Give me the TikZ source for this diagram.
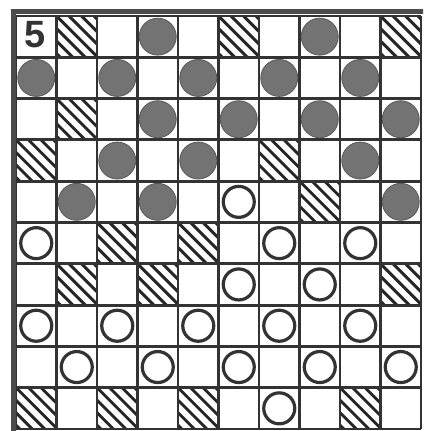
\documentclass[tikz,border=0pt]{standalone}
\usepackage{fontspec}
\setsansfont{Liberation Sans}
\begin{document}
\begin{tikzpicture}[
                x=1pt,y=1pt,
                boardGrid/.style={draw=black!80,line width=2.9pt},
                boardFrame/.style={draw=black!70,line width=5pt},
                hatchCell/.style={minimum width=40.5pt,minimum height=41.3pt,
                                  inner sep=0pt,path picture={
                    \foreach \k in {-4,...,4}
                        \draw[black!85,line width=2.9pt]
                            ([xshift=\k*12.5pt]path picture bounding box.north west)
                            -- ++(60,-60);}},
                blackMan/.style={circle,fill=black!55,draw=black!65,line width=0.8pt,
                                 minimum size=37pt,inner sep=0pt},
                whiteMan/.style={circle,fill=white,draw=black!80,line width=3.2pt,
                                 minimum size=31pt,inner sep=0pt}]
                \useasboundingbox[fill=white] (0,0) rectangle (423,431);
                \clip (0,0) rectangle (423,431);
                % square centres, column c from the left, row r from the top
                \foreach \c in {1,...,10}
                    \foreach \r in {1,...,10}
                        \coordinate (s\c-\r) at ({16+40.5*(\c-0.5)},{415-41.3*(\r-0.5)});
                % empty dark squares
                \foreach \c/\r in {2/1,6/1,10/1,2/3,1/4,7/4,8/5,3/6,5/6,
                                   2/7,4/7,10/7,1/10,3/10,5/10,9/10}
                    \node[hatchCell] (h\c-\r) at (s\c-\r) {};
                % grid and frame
                \foreach \i in {0,...,10} {
                    \draw[boardGrid] ({16+40.5*\i},2) -- ({16+40.5*\i},415);
                    \draw[boardGrid] (16,{415-41.3*\i}) -- (421,{415-41.3*\i});
                }
                \draw[boardFrame] (13.5,-5) rectangle (430,419);
                % men
                \foreach \c/\r in {4/1,8/1,1/2,3/2,5/2,7/2,9/2,4/3,6/3,8/3,10/3,
                                   3/4,5/4,9/4,2/5,4/5,10/5}
                    \node[blackMan] (b\c-\r) at (s\c-\r) {};
                \foreach \c/\r in {6/5,1/6,7/6,9/6,6/7,8/7,1/8,3/8,5/8,7/8,9/8,
                                   2/9,4/9,6/9,8/9,10/9,7/10}
                    \node[whiteMan] (w\c-\r) at (s\c-\r) {};
                \node[font=\sffamily\bfseries\fontsize{38}{38}\selectfont,text=black!80,
                      inner sep=0pt] (diagNo) at ([xshift=-1pt,yshift=2pt]s1-1) {5};
            \end{tikzpicture}
\end{document}
